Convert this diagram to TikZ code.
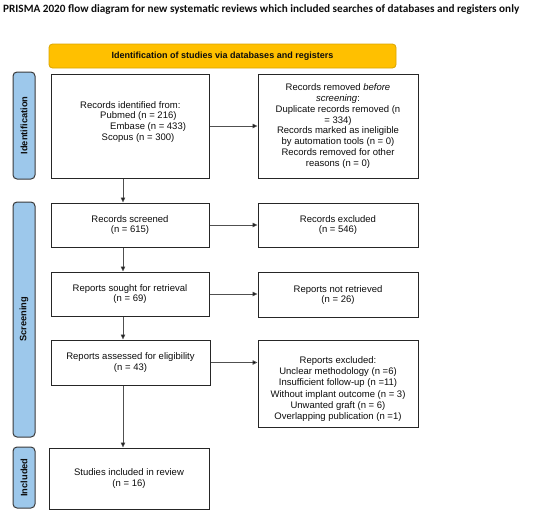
\documentclass[tikz,border=0pt]{standalone}
\usepackage{fontspec}
\setmainfont{Liberation Sans}
\newfontfamily\titlefont{Carlito}
\usetikzlibrary{arrows.meta,calc}
\definecolor{hdrfill}{HTML}{FFC000}
\definecolor{hdrdraw}{HTML}{D9A400}
\definecolor{barfill}{HTML}{9DC8EB}
\definecolor{bardraw}{HTML}{3A3A3A}
\definecolor{boxdraw}{HTML}{262626}
\definecolor{linecol}{HTML}{505050}
\definecolor{txt}{HTML}{0D0D0D}
\begin{document}
\begin{tikzpicture}[x=1pt,y=-1pt,
  box/.style={draw=boxdraw,line width=1pt,fill=white,text=txt,align=center,
    font=\fontsize{9.5}{10.9}\selectfont,inner sep=0pt},
  boxtext/.style={align=center,inner sep=0pt,text=txt,font=\fontsize{9.5}{11.3}\selectfont},
  bar/.style={draw=bardraw,line width=1pt,fill=barfill,rounded corners=4pt},
  barlab/.style={rotate=90,font=\fontsize{9.3}{11}\selectfont\bfseries,text=txt},
  hdr/.style={draw=hdrdraw,line width=0.8pt,fill=hdrfill,rounded corners=3.5pt,
    text=txt,font=\fontsize{9}{11}\selectfont\bfseries},
  flow/.style={draw=linecol,line width=0.8pt,-{Triangle[length=5pt,width=4.5pt,fill=black]}}
]
\useasboundingbox (0,0) rectangle (550,515);
% title
\node[anchor=west,font=\titlefont\fontsize{11.2}{13}\selectfont\bfseries,text=txt,inner sep=0pt] (title) at (3,10)
  {PRISMA 2020 flow diagram for new systematic reviews which included searches of databases and registers only};
% header
\node[hdr,minimum width=347pt,minimum height=24pt] (hdr) at (222.5,56) {Identification of studies via databases and registers};
% side bars
\node[bar,minimum width=22pt,minimum height=107pt] (barI) at (24,125.5) {};
\node[barlab] (labI) at (barI.center) {Identification};
\node[bar,minimum width=22pt,minimum height=235pt] (barS) at (24,319.5) {};
\node[barlab] (labS) at (barS.center) {Screening};
\node[bar,minimum width=22pt,minimum height=61pt] (barC) at (24,477.5) {};
\node[barlab] (labC) at (barC.center) {Included};
% left boxes
\node[box,minimum width=158pt,minimum height=104pt] (ident) at (130,126) {};
\node[align=left,anchor=north west,inner sep=0pt,text=txt,font=\fontsize{9.5}{10.9}\selectfont] (identtxt) at (80,101)
  {Records identified from:\\\hspace{20pt}Pubmed (n = 216)\\\hspace{30pt}Embase (n = 433)\\\hspace{21.5pt}Scopus (n = 300)};
\node[box,minimum width=158pt,minimum height=44pt] (screened) at (130,225) {Records screened\\(n = 615)};
\node[box,minimum width=158pt,minimum height=44pt] (sought) at (130,294) {Reports sought for retrieval\\(n = 69)};
\node[box,minimum width=159pt,minimum height=45pt] (assessed) at (130.5,362.5) {Reports assessed for eligibility\\(n = 43)};
\node[box,minimum width=160pt,minimum height=61pt] (incl) at (129,478.5) {Studies included in review\\(n = 16)};
% right boxes
\node[box,minimum width=160pt,minimum height=104pt] (removed) at (338,126)
  {Records removed \textit{before}\\\textit{screening}:\\Duplicate records removed (n\\= 334)\\Records marked as ineligible\\by automation tools (n = 0)\\Records removed for other\\reasons (n = 0)};
\node[box,minimum width=160pt,minimum height=44pt] (excluded) at (338,225) {Records excluded\\(n = 546)};
\node[box,minimum width=160pt,minimum height=45pt] (notret) at (338,295) {Reports not retrieved\\(n = 26)};
\node[box,minimum width=160pt,minimum height=87pt] (repexcl) at (338,383.5) {};
\node[boxtext] (repexcltxt) at (338,389)
  {Reports excluded:\\Unclear methodology (n =6)\\Insufficient follow-up (n =11)\\Without implant outcome (n = 3)\\Unwanted graft (n = 6)\\Overlapping publication (n =1)};
% connectors
\coordinate (col) at (123,0);
\draw[flow] (ident.south -| col) -- (screened.north -| col);
\draw[flow] (screened.south -| col) -- (sought.north -| col);
\draw[flow] (sought.south -| col) -- (assessed.north -| col);
\draw[flow] (assessed.south -| col) -- (incl.north -| col);
\draw[flow] (ident.east) -- (removed.west |- ident.east);
\draw[flow] (screened.east) -- (excluded.west |- screened.east);
\draw[flow] (sought.east) -- (notret.west |- sought.east);
\draw[flow] (assessed.east) -- (repexcl.west |- assessed.east);
\end{tikzpicture}
\end{document}
